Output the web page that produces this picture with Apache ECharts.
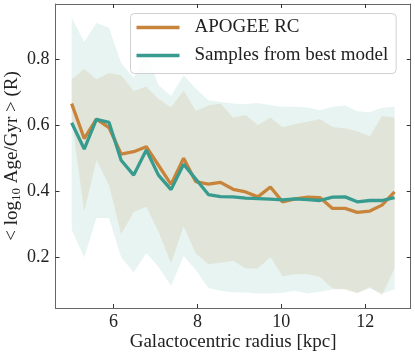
<!DOCTYPE html>
<html>
<head>
<meta charset="utf-8">
<script src="https://cdn.jsdelivr.net/npm/echarts@6/dist/echarts.min.js"></script>
<style>
  html, body { margin: 0; padding: 0; background: #fff; }
  #chart { width: 415px; height: 356px; }
</style>
</head>
<body>
<div id="chart"></div>
<script>
// radial bins (kpc)
const radius = [5.00, 5.30, 5.59, 5.89, 6.18, 6.48, 6.78, 7.07, 7.37, 7.67, 7.96, 8.26, 8.55, 8.85,
                9.15, 9.44, 9.74, 10.03, 10.33, 10.63, 10.92, 11.22, 11.52, 11.81, 12.11, 12.40, 12.70];

// mean log10 age, APOGEE red clump
const apogeeMean = [0.666, 0.560, 0.619, 0.593, 0.513, 0.520, 0.535, 0.479, 0.421, 0.500, 0.429, 0.422, 0.427, 0.406,
                    0.398, 0.383, 0.413, 0.368, 0.377, 0.382, 0.381, 0.348, 0.348, 0.336, 0.340, 0.358, 0.398];
// mean log10 age, samples from best model
const modelMean = [0.608, 0.528, 0.618, 0.609, 0.494, 0.449, 0.525, 0.449, 0.405, 0.482, 0.437, 0.390, 0.384, 0.383,
                   0.379, 0.378, 0.376, 0.374, 0.377, 0.375, 0.372, 0.382, 0.383, 0.368, 0.372, 0.372, 0.381];

// spread bands
const apogeeHi = [0.740, 0.771, 0.740, 0.759, 0.752, 0.704, 0.718, 0.680, 0.655, 0.706, 0.644, 0.660, 0.666, 0.624,
                  0.631, 0.601, 0.624, 0.594, 0.604, 0.611, 0.619, 0.595, 0.591, 0.582, 0.567, 0.628, 0.624];
const apogeeLo = [0.620, 0.337, 0.494, 0.419, 0.269, 0.337, 0.353, 0.277, 0.181, 0.294, 0.211, 0.179, 0.183, 0.189,
                  0.166, 0.166, 0.201, 0.142, 0.148, 0.148, 0.140, 0.105, 0.102, 0.090, 0.110, 0.085, 0.166];
const modelHi = [0.926, 0.853, 0.910, 0.896, 0.789, 0.744, 0.818, 0.722, 0.689, 0.752, 0.712, 0.676, 0.671, 0.666,
                 0.664, 0.668, 0.661, 0.656, 0.656, 0.654, 0.646, 0.656, 0.660, 0.643, 0.640, 0.653, 0.656];
const modelLo = [0.284, 0.199, 0.319, 0.319, 0.201, 0.154, 0.213, 0.171, 0.113, 0.204, 0.161, 0.107, 0.098, 0.094,
                 0.093, 0.090, 0.090, 0.092, 0.098, 0.090, 0.095, 0.102, 0.104, 0.093, 0.105, 0.090, 0.103];

const xTicks = [6, 8, 10, 12];
const yTicks = [0.2, 0.4, 0.6, 0.8];

const ORANGE = "#c8843a";
const TEAL = "#389b8f";
const FONT = "Liberation Serif";
const TXT = "#222";

function band(name, lo, hi, fill){
  return {
    name,
    type: "custom",
    silent: true,
    z: 1,
    data: [[radius[0], hi[0]]],
    renderItem: (params, api) => {
      const pts = [];
      for (let i = 0; i < radius.length; i++) pts.push(api.coord([radius[i], hi[i]]));
      for (let i = radius.length - 1; i >= 0; i--) pts.push(api.coord([radius[i], lo[i]]));
      return { type: "polygon", shape: { points: pts }, style: { fill: fill, stroke: null } };
    }
  };
}

function pairs(ys){
  return radius.map((x, i) => [x, ys[i]]);
}

const chart = echarts.init(document.getElementById("chart"), null, { renderer: "canvas" });

const xMin = 4.615, xMax = 13.085;
const yMin = 0.046, yMax = 0.968;

const tickCommon = { show: true, inside: true, length: 4, lineStyle: { color: "#333", width: 1 } };

const option = {
  animation: false,
  grid: { left: 55.5, right: 4.3, top: 4, bottom: 48, containLabel: false, outerBoundsMode: "none" },
  legend: {
    left: 130.5,
    top: 13.5,
    orient: "vertical",
    data: ["APOGEE RC", "Samples from best model"],
    icon: "rect",
    itemWidth: 43,
    itemHeight: 3.5,
    itemGap: 8,
    padding: [4, 8, 8, 6],
    backgroundColor: "rgba(255,255,255,0.8)",
    borderColor: "#d0d0d0",
    borderWidth: 1,
    borderRadius: 4,
    textStyle: { fontFamily: FONT, fontSize: 19, color: TXT, lineHeight: 20, padding: [0, 0, 0, 10] }
  },
  xAxis: [
    {
      type: "value", min: xMin, max: xMax,
      name: "Galactocentric radius [kpc]",
      nameLocation: "middle", nameGap: 25, nameMoveOverlap: false,
      nameTextStyle: { fontFamily: FONT, fontSize: 19, color: TXT },
      axisLine: { show: true, onZero: false, lineStyle: { color: "#666", width: 1 } },
      axisTick: Object.assign({ customValues: xTicks }, tickCommon),
      axisLabel: { customValues: xTicks, fontFamily: FONT, fontSize: 18, color: TXT, margin: 5 },
      splitLine: { show: false }
    },
    {
      type: "value", min: xMin, max: xMax, position: "top",
      axisLine: { show: true, onZero: false, lineStyle: { color: "#666", width: 1 } },
      axisTick: Object.assign({ customValues: xTicks }, tickCommon),
      axisLabel: { show: false },
      splitLine: { show: false }
    }
  ],
  yAxis: [
    {
      type: "value", min: yMin, max: yMax,
      name: "< log{sub|10} Age/Gyr > (R)",
      nameLocation: "middle", nameRotate: 90, nameGap: 32, nameMoveOverlap: false,
      nameTextStyle: {
        fontFamily: FONT, fontSize: 19, color: TXT,
        rich: { sub: { fontFamily: FONT, fontSize: 13, color: TXT, padding: [9, 0, 0, 0] } }
      },
      axisLine: { show: true, onZero: false, lineStyle: { color: "#666", width: 1 } },
      axisTick: Object.assign({ customValues: yTicks }, tickCommon),
      axisLabel: { customValues: yTicks, formatter: v => v.toFixed(1), fontFamily: FONT, fontSize: 18, color: TXT, margin: 6 },
      splitLine: { show: false }
    },
    {
      type: "value", min: yMin, max: yMax, position: "right",
      axisLine: { show: true, onZero: false, lineStyle: { color: "#666", width: 1 } },
      axisTick: Object.assign({ customValues: yTicks }, tickCommon),
      axisLabel: { show: false },
      splitLine: { show: false }
    }
  ],
  series: [
    band("model band", modelLo, modelHi, "rgba(56,155,143,0.115)"),
    band("apogee band", apogeeLo, apogeeHi, "rgba(200,170,120,0.2)"),
    {
      name: "APOGEE RC",
      type: "line",
      data: pairs(apogeeMean),
      showSymbol: false,
      color: ORANGE,
      lineStyle: { color: ORANGE, width: 3.3 },
      z: 3
    },
    {
      name: "Samples from best model",
      type: "line",
      data: pairs(modelMean),
      showSymbol: false,
      color: TEAL,
      lineStyle: { color: TEAL, width: 3.3 },
      z: 4
    }
  ]
};

chart.setOption(option);
</script>
</body>
</html>
